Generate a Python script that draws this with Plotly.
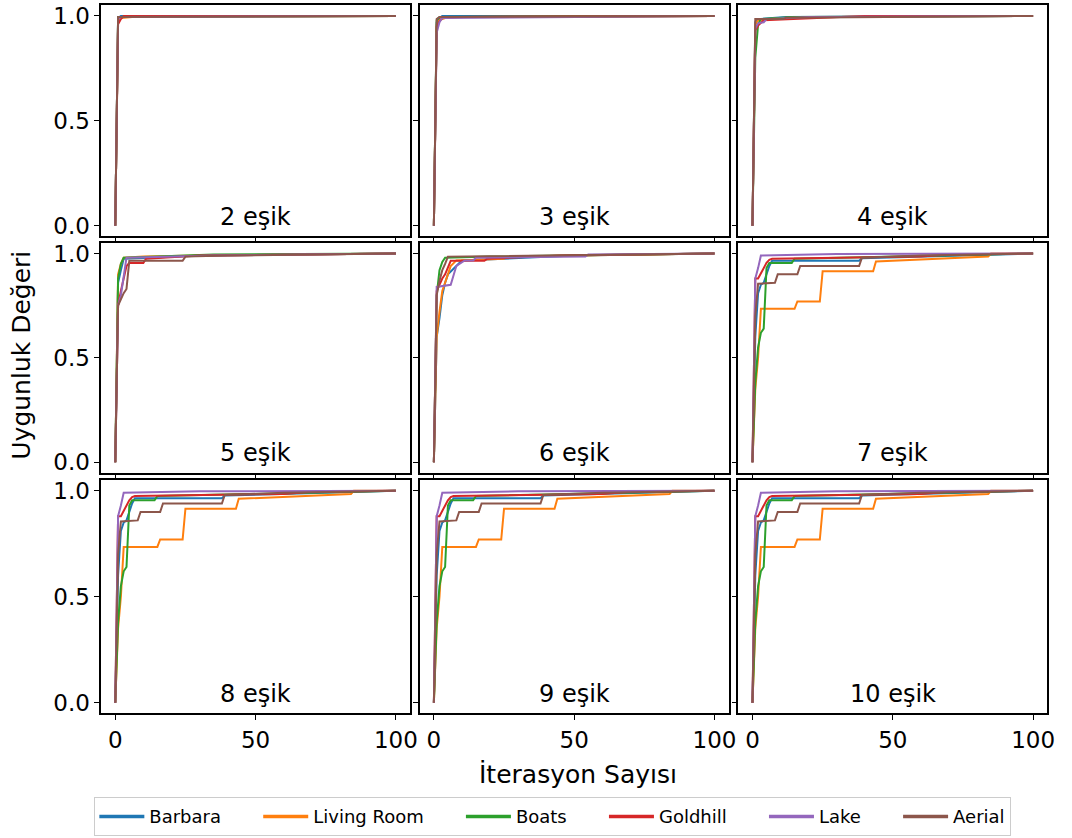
import plotly.graph_objects as go

# ---------------- data ----------------
SERIES = ["Barbara", "Living Room", "Boats", "Goldhill", "Lake", "Aerial"]
COLORS = ["#1f77b4", "#ff7f0e", "#2ca02c", "#d62728", "#9467bd", "#8c564b"]
PANEL_LABELS = ["2 eşik", "3 eşik", "4 eşik", "5 eşik", "6 eşik", "7 eşik",
                "8 eşik", "9 eşik", "10 eşik"]
X_TICKS = [0, 50, 100]
Y_TICKS = [0.0, 0.5, 1.0]
Y_TICK_TEXT = ["0.0", "0.5", "1.0"]

# breakpoints (iteration, fitness) for each series, in SERIES order
ESIK2_ITER = [[0, 1, 2, 100], [0, 1, 2, 6, 100], [0, 1, 100],
              [0, 1, 2, 3, 100], [0, 1, 2, 100], [0, 1, 100]]
ESIK2_FIT = [[0, 0.99, 1.0, 1.0], [0, 0.98, 0.99, 0.995, 1.0], [0, 0.995, 1.0],
             [0, 0.96, 0.985, 1.0, 1.0], [0, 0.985, 0.995, 1.0], [0, 0.995, 1.0]]

ESIK3_ITER = [[0, 1, 2, 3, 100], [0, 1, 2, 4, 11, 100], [0, 1, 2, 100],
              [0, 1, 2, 3, 8, 100], [0, 1, 2, 3, 100], [0, 1, 2, 100]]
ESIK3_FIT = [[0, 0.97, 0.99, 1.0, 1.0], [0, 0.96, 0.98, 0.99, 0.995, 1.0],
             [0, 0.98, 0.995, 1.0], [0, 0.95, 0.975, 0.99, 0.995, 1.0],
             [0, 0.92, 0.97, 0.99, 1.0], [0, 0.985, 0.995, 1.0]]

ESIK4_ITER = [[0, 1, 2, 12, 100], [0, 1, 2, 10, 30, 100], [0, 1, 2, 3, 15, 100],
              [0, 1, 2, 4, 23, 40, 100], [0, 1, 2, 4, 5, 20, 100],
              [0, 1, 11, 12, 100]]
ESIK4_FIT = [[0, 0.97, 0.985, 0.995, 1.0], [0, 0.96, 0.98, 0.99, 0.995, 1.0],
             [0, 0.8, 0.96, 0.985, 0.995, 1.0],
             [0, 0.93, 0.955, 0.98, 0.99, 1.0, 1.0],
             [0, 0.94, 0.965, 0.97, 0.985, 0.995, 1.0],
             [0, 0.985, 0.985, 0.992, 1.0]]

ESIK5_ITER = [[0, 1, 2, 3, 12, 30, 100], [0, 1, 2, 3, 10, 30, 100],
              [0, 1, 2, 3, 15, 35, 100], [0, 1, 2, 3, 4, 5, 10, 11, 30, 100],
              [0, 1, 2, 3, 4, 35, 100], [0, 1, 2, 3, 4, 5, 24, 25, 40, 100]]
ESIK5_FIT = [[0, 0.86, 0.92, 0.975, 0.98, 0.99, 1.0],
             [0, 0.9, 0.95, 0.98, 0.985, 0.99, 1.0],
             [0, 0.88, 0.95, 0.98, 0.985, 0.995, 1.0],
             [0, 0.75, 0.82, 0.88, 0.94, 0.955, 0.955, 0.975, 0.99, 1.0],
             [0, 0.75, 0.8, 0.9, 0.98, 0.99, 1.0],
             [0, 0.75, 0.78, 0.81, 0.83, 0.965, 0.965, 0.985, 0.99, 1.0]]

ESIK6_ITER = [[0, 1, 2, 3, 4, 5, 8, 10, 25, 50, 100],
              [0, 1, 2, 3, 5, 6, 8, 25, 26, 50, 100],
              [0, 1, 2, 3, 4, 20, 100],
              [0, 1, 2, 3, 4, 5, 6, 18, 19, 45, 100],
              [0, 1, 6, 7, 8, 11, 14, 15, 54, 55, 100],
              [0, 1, 2, 3, 4, 5, 100]]
ESIK6_FIT = [[0, 0.6, 0.69, 0.8, 0.86, 0.9, 0.94, 0.967, 0.975, 0.99, 1.0],
             [0, 0.6, 0.72, 0.82, 0.9, 0.94, 0.967, 0.975, 0.985, 0.99, 1.0],
             [0, 0.8, 0.92, 0.96, 0.98, 0.985, 1.0],
             [0, 0.82, 0.85, 0.88, 0.9, 0.935, 0.965, 0.965, 0.975, 0.99, 1.0],
             [0, 0.84, 0.85, 0.9, 0.94, 0.967, 0.967, 0.98, 0.985, 0.995, 1.0],
             [0, 0.8, 0.87, 0.92, 0.95, 0.985, 1.0]]

ESIK7_ITER = [[0, 1, 2, 3, 4, 5, 6, 7, 38, 39, 70, 100],
              [0, 1, 2, 3, 15, 16, 24, 25, 43, 44, 84, 85, 100],
              [0, 1, 2, 3, 4, 5, 6, 14, 15, 70, 100],
              [0, 1, 2, 4, 5, 6, 7, 60, 70, 100],
              [0, 1, 2, 3, 30, 100],
              [0, 1, 2, 8, 9, 16, 17, 38, 39, 60, 100]]
ESIK7_FIT = [[0, 0.6, 0.81, 0.85, 0.86, 0.9, 0.94, 0.965, 0.965, 0.977, 0.99, 1.0],
             [0, 0.35, 0.5, 0.735, 0.735, 0.77, 0.77, 0.915, 0.915, 0.962, 0.985, 1.0, 1.0],
             [0, 0.38, 0.55, 0.62, 0.64, 0.93, 0.955, 0.955, 0.975, 0.99, 1.0],
             [0, 0.88, 0.88, 0.93, 0.955, 0.97, 0.975, 0.985, 0.995, 1.0],
             [0, 0.88, 0.93, 0.99, 0.997, 1.0],
             [0, 0.7, 0.855, 0.86, 0.9, 0.9, 0.94, 0.94, 0.98, 0.99, 1.0]]

# panels 8, 9 and 10 show the same curves as panel 7 in the reference
ESIK8_ITER, ESIK8_FIT = ESIK7_ITER, ESIK7_FIT
ESIK9_ITER, ESIK9_FIT = ESIK7_ITER, ESIK7_FIT
ESIK10_ITER, ESIK10_FIT = ESIK7_ITER, ESIK7_FIT

PANEL_ITERS = [ESIK2_ITER, ESIK3_ITER, ESIK4_ITER, ESIK5_ITER, ESIK6_ITER,
               ESIK7_ITER, ESIK8_ITER, ESIK9_ITER, ESIK10_ITER]
PANEL_FITS = [ESIK2_FIT, ESIK3_FIT, ESIK4_FIT, ESIK5_FIT, ESIK6_FIT,
              ESIK7_FIT, ESIK8_FIT, ESIK9_FIT, ESIK10_FIT]

# ---------------- layout geometry ----------------
W, H = 1072, 838
COL_PX = [(102, 413), (423, 734), (744, 1055)]
ROW_PX = [(3.5, 235.6), (242.5, 473.5), (481, 715.6)]
FONT = "DejaVu Sans"
TICK_SIZE = 23
LABEL_SIZE = 24
TITLE_SIZE = 25
LEGEND_SIZE = 18
LEGEND_PAD = "\u00a0" * 5 + "\u2009"

fig = go.Figure()
layout = dict(
    width=W, height=H,
    margin=dict(l=0, r=0, t=0, b=0),
    paper_bgcolor="white", plot_bgcolor="white",
    font=dict(family=FONT, color="black", size=TICK_SIZE),
    showlegend=True,
)
annotations = []

for k in range(9):
    r, c = divmod(k, 3)
    idx = k + 1
    xa = "x" if idx == 1 else f"x{idx}"
    ya = "y" if idx == 1 else f"y{idx}"
    xkey = "xaxis" if idx == 1 else f"xaxis{idx}"
    ykey = "yaxis" if idx == 1 else f"yaxis{idx}"
    x0, x1 = COL_PX[c]
    y0, y1 = ROW_PX[r]
    layout[xkey] = dict(
        domain=[x0 / W, x1 / W], anchor=ya, range=[-5, 105],
        tickvals=X_TICKS, ticktext=[str(v) for v in X_TICKS],
        showticklabels=(r == 2), ticks="outside", ticklen=5, tickwidth=1.3,
        tickcolor="black", showline=True, linecolor="black", linewidth=1.6,
        mirror=True, showgrid=False, zeroline=False,
        tickfont=dict(size=TICK_SIZE, family=FONT, color="black"),
    )
    layout[ykey] = dict(
        domain=[1 - y1 / H, 1 - y0 / H], anchor=xa, range=[-0.05, 1.05],
        tickvals=Y_TICKS, ticktext=Y_TICK_TEXT,
        showticklabels=(c == 0), ticks="outside", ticklen=5, tickwidth=1.3,
        tickcolor="black", showline=True, linecolor="black", linewidth=1.6,
        mirror=True, showgrid=False, zeroline=False,
        tickfont=dict(size=TICK_SIZE, family=FONT, color="black"),
    )
    for s, name in enumerate(SERIES):
        fig.add_trace(go.Scatter(
            x=PANEL_ITERS[k][s], y=PANEL_FITS[k][s], mode="lines",
            name=name, legendgroup=name, showlegend=False,
            line=dict(color=COLORS[s], width=2),
            xaxis=xa, yaxis=ya,
        ))
    annotations.append(dict(
        text=PANEL_LABELS[k], xref=f"{xa} domain", yref=f"{ya} domain",
        x=0.5, y=0.085, xanchor="center", yanchor="middle", showarrow=False,
        font=dict(size=LABEL_SIZE, family=FONT, color="black"),
    ))

# legend entries (thicker handles, like the reference legend);
# non-breaking spaces reproduce the reference's column spacing
for s, name in enumerate(SERIES):
    pad = LEGEND_PAD if s < len(SERIES) - 1 else ""
    fig.add_trace(go.Scatter(
        x=[None], y=[None], mode="lines", name=name + pad, legendgroup=name,
        showlegend=True, line=dict(color=COLORS[s], width=3.5),
        xaxis="x", yaxis="y", hoverinfo="skip",
    ))

annotations.append(dict(
    text="Uygunluk Değeri", xref="paper", yref="paper",
    x=22 / W, y=1 - 355 / H, textangle=-90, showarrow=False,
    xanchor="center", yanchor="middle",
    font=dict(size=TITLE_SIZE, family=FONT, color="black"),
))
annotations.append(dict(
    text="İterasyon Sayısı", xref="paper", yref="paper",
    x=582 / W, y=1 - 777 / H, showarrow=False,
    xanchor="center", yanchor="middle",
    font=dict(size=TITLE_SIZE, family=FONT, color="black"),
))
layout["annotations"] = annotations
layout["legend"] = dict(
    orientation="h", x=557 / W, y=1 - 800 / H, xanchor="center", yanchor="top",
    bordercolor="#cccccc", borderwidth=1, bgcolor="white",
    font=dict(size=LEGEND_SIZE, family=FONT, color="black"),
    itemwidth=45, tracegroupgap=0,
)
fig.update_layout(**layout)
fig.write_html(
    "out.html",
    config={"displayModeBar": False},
    post_script=("document.body.style.margin='0px';"
                 "document.body.style.overflow='hidden';"
                 "document.documentElement.style.overflow='hidden';"),
)
